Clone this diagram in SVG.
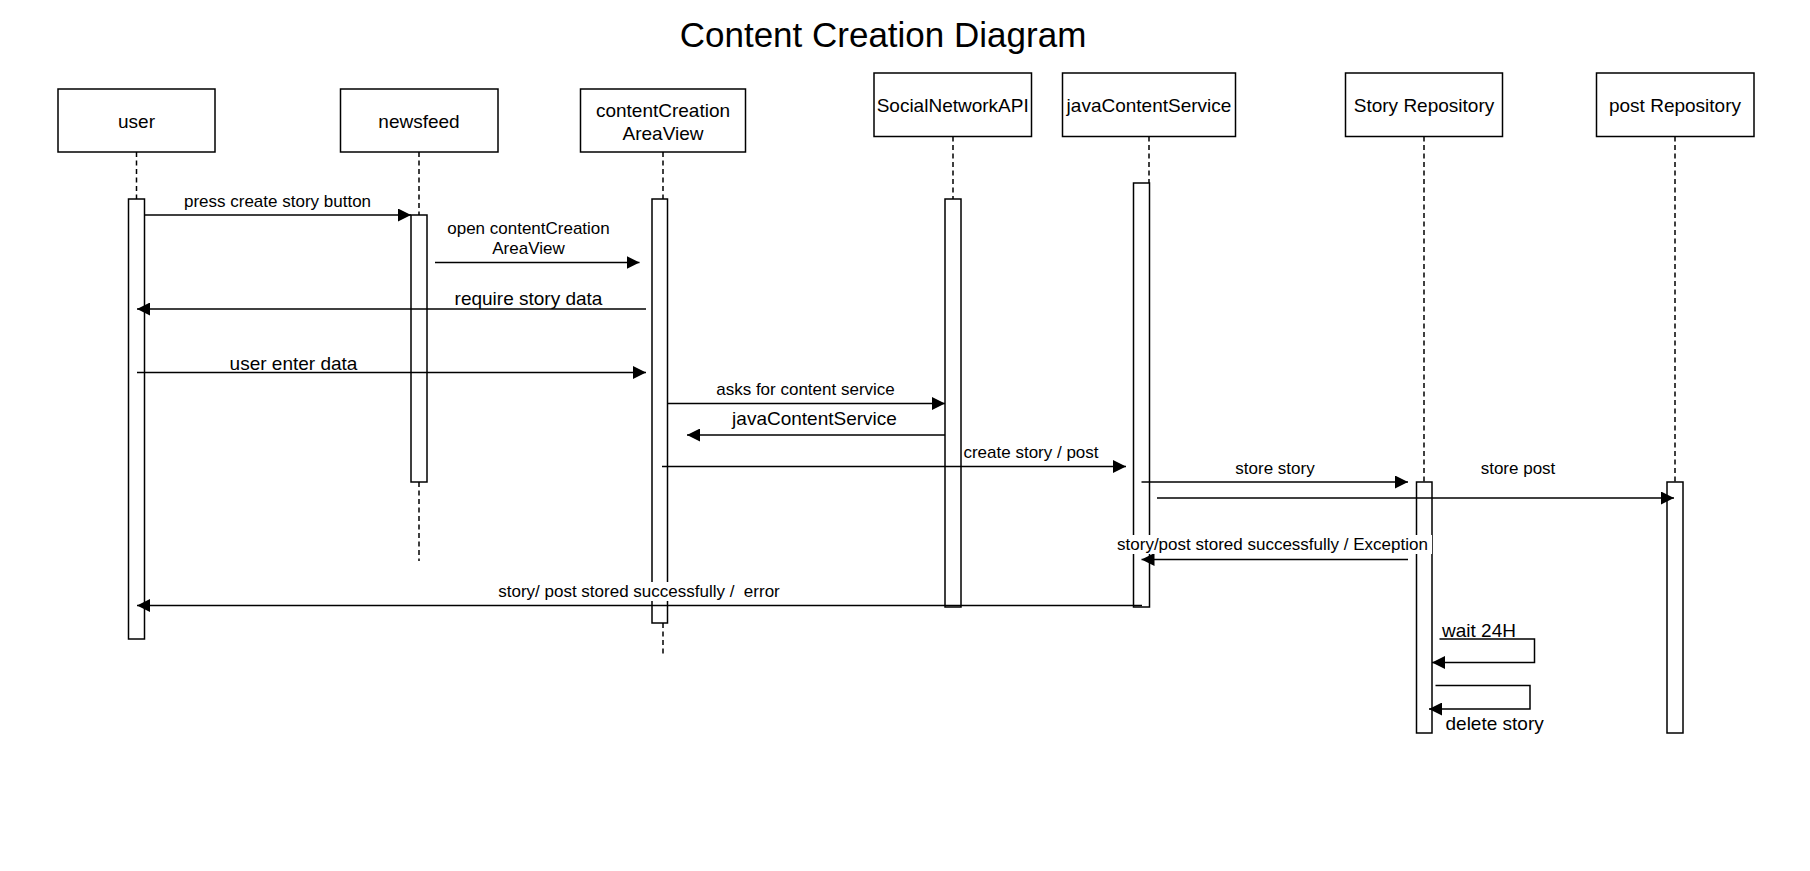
<svg xmlns="http://www.w3.org/2000/svg" width="1810" height="871" viewBox="0 0 1810 871">
<style>
  .box { fill: #fff; stroke: #000; stroke-width: 1.5; }
  .bar { fill: #fff; stroke: #000; stroke-width: 1.5; }
  .life { stroke: #000; stroke-width: 1.5; stroke-dasharray: 5 3.5; fill: none; }
  .msg { stroke: #000; stroke-width: 1.5; fill: none; marker-end: url(#ah); }
  .t { font-family: "Liberation Sans", Arial, sans-serif; fill: #000; }
  .n { font-size: 19px; text-anchor: middle; }
  .m { font-size: 17px; text-anchor: middle; }
  .l { font-size: 19px; text-anchor: middle; }
  .bg { fill: #fff; stroke: none; }
</style>
<defs>
  <marker id="ah" markerUnits="userSpaceOnUse" markerWidth="13" markerHeight="13" refX="13" refY="6.5" orient="auto">
    <path d="M0,0 L13,6.5 L0,13 z" fill="#000"/>
  </marker>
</defs>
<rect width="1810" height="871" fill="#fff"/>
<text class="t" x="883" y="47" font-size="35" text-anchor="middle">Content Creation Diagram</text>

<g id="user">
  <rect class="box" x="58" y="89" width="157" height="63"/>
  <text class="t n" x="136.5" y="127.5">user</text>
  <line class="life" x1="136.5" y1="152" x2="136.5" y2="199"/>
  <rect class="bar" x="128.5" y="199" width="16" height="440"/>
</g>
<g id="newsfeed">
  <rect class="box" x="340.5" y="89" width="157.5" height="63"/>
  <text class="t n" x="419" y="127.5">newsfeed</text>
  <line class="life" x1="419" y1="152" x2="419" y2="215"/>
  <line class="life" x1="419" y1="482" x2="419" y2="561"/>
  <rect class="bar" x="411" y="215" width="16" height="267"/>
</g>
<g id="contentCreationAreaView">
  <rect class="box" x="580.5" y="89" width="165" height="63"/>
  <text class="t n" x="663" y="117">contentCreation</text>
  <text class="t n" x="663" y="140">AreaView</text>
  <line class="life" x1="663" y1="152" x2="663" y2="199"/>
  <line class="life" x1="663" y1="623" x2="663" y2="655"/>
  <rect class="bar" x="652" y="199" width="15.5" height="424"/>
</g>
<g id="SocialNetworkAPI">
  <rect class="box" x="874" y="73" width="157.5" height="63.5"/>
  <text class="t n" x="952.7" y="112">SocialNetworkAPI</text>
  <line class="life" x1="953" y1="136.5" x2="953" y2="199"/>
  <rect class="bar" x="945" y="199" width="16" height="408"/>
</g>
<g id="javaContentService">
  <rect class="box" x="1062.5" y="73" width="173" height="63.5"/>
  <text class="t n" x="1149" y="112">javaContentService</text>
  <line class="life" x1="1149" y1="136.5" x2="1149" y2="183"/>
  <rect class="bar" x="1133.5" y="183" width="16" height="424"/>
</g>
<g id="StoryRepository">
  <rect class="box" x="1345.5" y="73" width="157" height="63.5"/>
  <text class="t n" x="1424" y="112">Story Repository</text>
  <line class="life" x1="1424" y1="136.5" x2="1424" y2="482"/>
  <rect class="bar" x="1416.5" y="482" width="15.5" height="251"/>
</g>
<g id="postRepository">
  <rect class="box" x="1596.5" y="73" width="157.5" height="63.5"/>
  <text class="t n" x="1675" y="112">post Repository</text>
  <line class="life" x1="1675" y1="136.5" x2="1675" y2="482"/>
  <rect class="bar" x="1667" y="482" width="16" height="251"/>
</g>

<g id="connectors">
  <line class="msg" x1="144.5" y1="215" x2="411" y2="215"/>
  <line class="msg" x1="435" y1="262.5" x2="639.5" y2="262.5"/>
  <line class="msg" x1="646" y1="309" x2="137" y2="309"/>
  <line class="msg" x1="137" y1="372.5" x2="646" y2="372.5"/>
  <line class="msg" x1="667.5" y1="403.5" x2="945" y2="403.5"/>
  <line class="msg" x1="945" y1="435" x2="687" y2="435"/>
  <line class="msg" x1="662" y1="466.5" x2="1126" y2="466.5"/>
  <line class="msg" x1="1141.5" y1="482" x2="1408" y2="482"/>
  <line class="msg" x1="1157" y1="498" x2="1674" y2="498"/>
  <line class="msg" x1="1408" y1="559.5" x2="1141.5" y2="559.5"/>
  <line class="msg" x1="1142" y1="605.5" x2="137" y2="605.5"/>
  <polyline class="msg" points="1439.5,639 1534.5,639 1534.5,662.5 1432,662.5"/>
  <polyline class="msg" points="1435.5,685.5 1530,685.5 1530,709 1429,709"/>
</g>

<g id="labels">
  <text class="t m" x="277.5" y="207">press create story button</text>
  <text class="t m" x="528.5" y="233.5">open contentCreation</text>
  <text class="t m" x="528.5" y="254">AreaView</text>
  <text class="t l" x="528.5" y="304.5">require story data</text>
  <text class="t l" x="293.5" y="370">user enter data</text>
  <text class="t m" x="805.5" y="395">asks for content service</text>
  <text class="t l" x="814.5" y="425">javaContentService</text>
  <text class="t m" x="1031" y="458">create story / post</text>
  <text class="t m" x="1275" y="473.5">store story</text>
  <text class="t m" x="1518" y="473.5">store post</text>
  <rect class="bg" x="1113" y="535" width="319" height="19"/>
  <text class="t m" x="1272.5" y="550">story/post stored successfully / Exception</text>
  <rect class="bg" x="494" y="582" width="290" height="19"/>
  <text class="t m" x="639" y="596.5" xml:space="preserve">story/ post stored successfully /  error</text>
  <text class="t" x="1442" y="636.5" font-size="19">wait 24H</text>
  <text class="t" x="1445.5" y="730" font-size="19">delete story</text>
</g>
</svg>
